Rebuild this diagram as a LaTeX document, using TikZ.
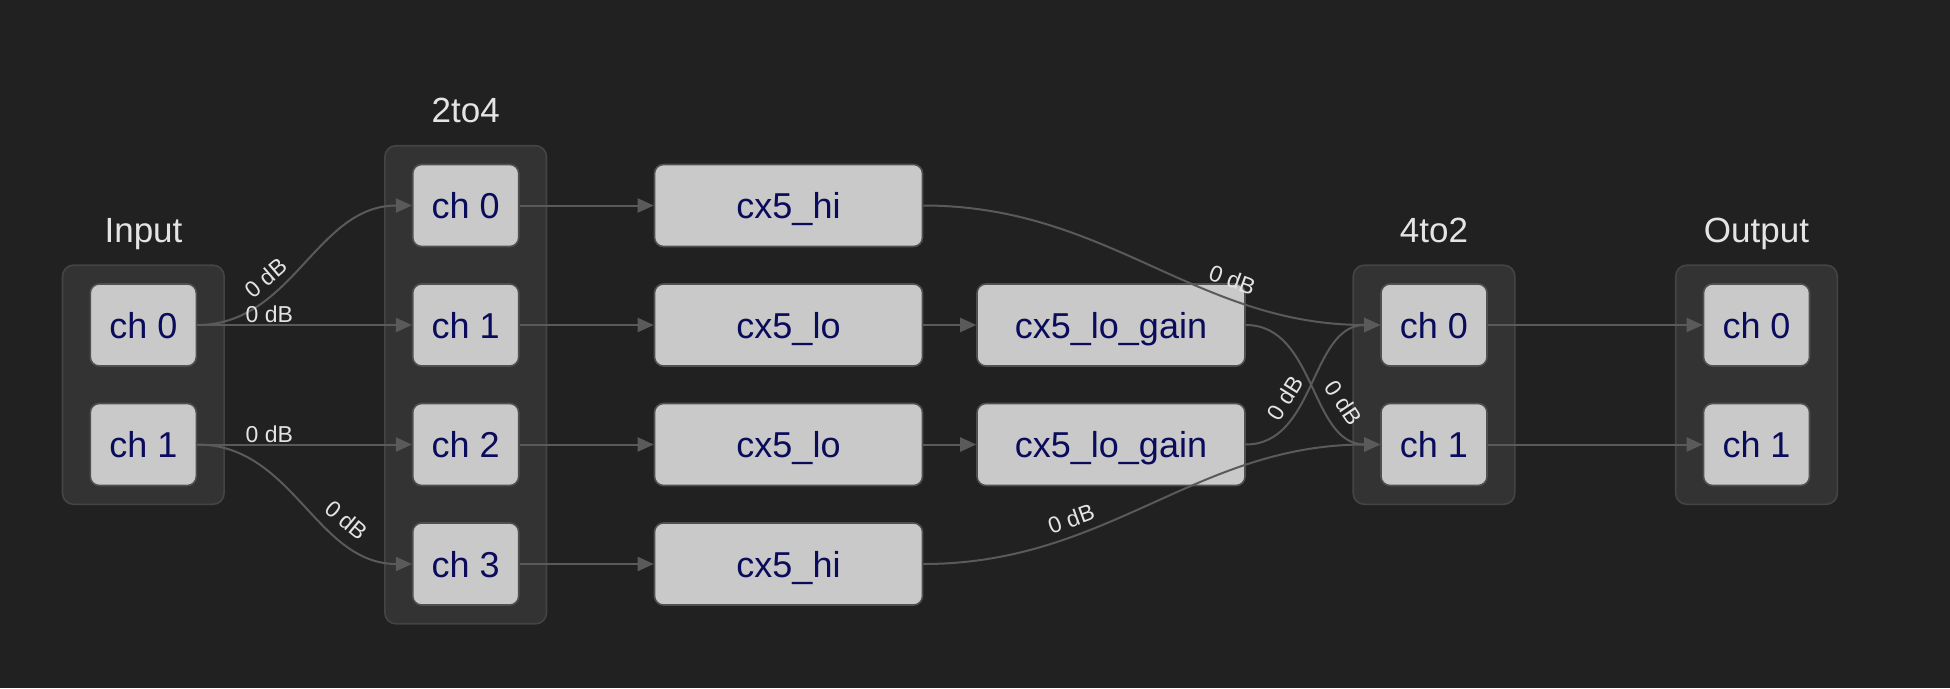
\documentclass[tikz,border=0pt]{standalone}
\usepackage{fontspec}
\setmainfont{Liberation Sans}
\usetikzlibrary{arrows.meta,fit,backgrounds}
\definecolor{bg}{HTML}{212121}
\definecolor{clfill}{HTML}{333333}
\definecolor{cldraw}{HTML}{444444}
\definecolor{nfill}{HTML}{C9C9C9}
\definecolor{ndraw}{HTML}{505050}
\definecolor{ntext}{HTML}{0B0B5B}
\definecolor{edgec}{HTML}{5A5A5A}
\definecolor{ltext}{HTML}{E4E4E4}
\begin{document}
\begin{tikzpicture}[x=1pt,y=-1pt,
  box/.style={draw=ndraw, line width=1.6pt, fill=nfill, rounded corners=9pt,
    text=ntext, font=\fontsize{36}{40}\selectfont, minimum height=82pt,
    inner sep=0pt, text height=26pt, text depth=0pt},
  chbox/.style={box, minimum width=106pt},
  wbox/.style={box, minimum width=268pt},
  cluster/.style={draw=cldraw, line width=1.6pt, fill=clfill, rounded corners=11pt,
    inner xsep=27pt, inner ysep=18pt},
  title/.style={text=ltext, font=\fontsize{35}{40}\selectfont, anchor=base, inner sep=0pt},
  conn/.style={draw=edgec, line width=2pt, -{Triangle[length=16pt,width=14pt]}},
  lab/.style={text=ltext, font=\fontsize{23}{24}\selectfont, sloped, above, inner sep=1pt},
  clab/.style={lab, inner xsep=1pt, inner ysep=8pt},
]
\useasboundingbox (0,0) rectangle (1950,688);

% Input
\node[chbox] (i0) at (143.3,325) {ch 0};
\node[chbox] (i1) at (143.3,444.5) {ch 1};
% 2to4
\node[chbox] (a0) at (465.7,205.5) {ch 0};
\node[chbox] (a1) at (465.7,325) {ch 1};
\node[chbox] (a2) at (465.7,444.5) {ch 2};
\node[chbox] (a3) at (465.7,564) {ch 3};
% processing
\node[wbox] (hi0) at (788.5,205.5) {cx5\_hi};
\node[wbox] (lo1) at (788.5,325) {cx5\_lo};
\node[wbox] (lo2) at (788.5,444.5) {cx5\_lo};
\node[wbox] (hi3) at (788.5,564) {cx5\_hi};
\node[wbox] (g1) at (1111,325) {cx5\_lo\_gain};
\node[wbox] (g2) at (1111,444.5) {cx5\_lo\_gain};
% 4to2
\node[chbox] (b0) at (1434,325) {ch 0};
\node[chbox] (b1) at (1434,444.5) {ch 1};
% Output
\node[chbox] (o0) at (1756.5,325) {ch 0};
\node[chbox] (o1) at (1756.5,444.5) {ch 1};

\begin{scope}[on background layer]
  \fill[bg] (0,0) rectangle (1950,688);
  \node[cluster, fit=(i0)(i1)] (cin) {};
  \node[cluster, fit=(a0)(a3)] (c24) {};
  \node[cluster, fit=(b0)(b1)] (c42) {};
  \node[cluster, fit=(o0)(o1)] (cout) {};
\end{scope}

\node[title] (tin) at (143.5,242.3) {Input};
\node[title] (t24) at (465.7,122.3) {2to4};
\node[title] (t42) at (1434,242.3) {4to2};
\node[title] (tout) at (1756.5,242.3) {Output};

% edges
\draw[conn] (i0.east) to[out=0,in=180] node[clab,pos=0.35]{0 dB} (a0.west);
\draw[conn] (i0.east) -- node[lab,pos=0.336]{0 dB} (a1.west);
\draw[conn] (i1.east) -- node[lab,pos=0.336]{0 dB} (a2.west);
\draw[conn] (i1.east) to[out=0,in=180] node[clab,pos=0.67]{0 dB} (a3.west);

\draw[conn] (a0.east) -- (hi0.west);
\draw[conn] (a1.east) -- (lo1.west);
\draw[conn] (a2.east) -- (lo2.west);
\draw[conn] (a3.east) -- (hi3.west);

\draw[conn] (lo1.east) -- (g1.west);
\draw[conn] (lo2.east) -- (g2.west);

\draw[conn] (hi0.east) to[out=0,in=180] node[clab,pos=0.68]{0 dB} (b0.west);
\draw[conn] (g1.east) to[out=0,in=180] node[clab,pos=0.66]{0 dB} (b1.west);
\draw[conn] (g2.east) to[out=0,in=180] node[clab,pos=0.37]{0 dB} (b0.west);
\draw[conn] (hi3.east) to[out=0,in=180] node[clab,pos=0.32]{0 dB} (b1.west);

\draw[conn] (b0.east) -- (o0.west);
\draw[conn] (b1.east) -- (o1.west);
\end{tikzpicture}
\end{document}
